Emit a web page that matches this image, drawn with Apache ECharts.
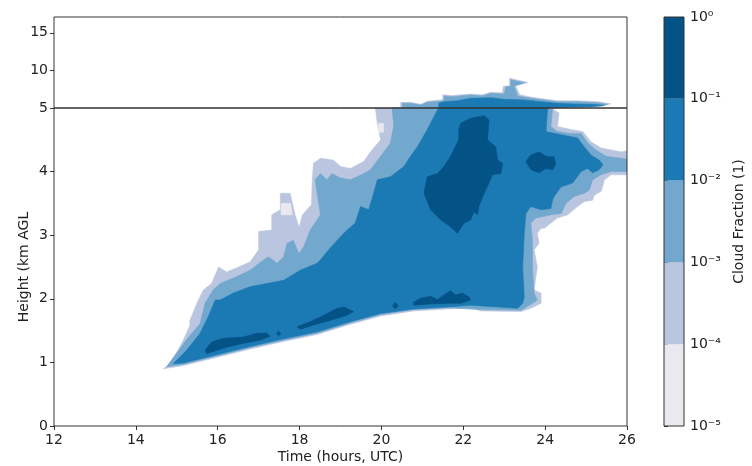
<!DOCTYPE html>
<html>
<head>
<meta charset="utf-8">
<script src="https://cdn.jsdelivr.net/npm/echarts@6/dist/echarts.min.js"></script>
<style>html,body{margin:0;padding:0;background:#fff}#c{width:752px;height:466px}</style>
</head>
<body>
<div id="c"></div>
<script>
// ---------- data (time in hours UTC, height in km AGL) ----------
const xTicks = [12, 14, 16, 18, 20, 22, 24, 26];
const yTicksLower = [0, 1, 2, 3, 4, 5];
const yTicksUpper = [10, 15];
const cloudLevelsExp = [-5, -4, -3, -2, -1, 0];   // colorbar boundaries, 10^exp

// outline of cloud fraction >= 1e-4
const level1Region = [
[14.67,0.90],[14.79,0.96],[14.96,1.11],[15.16,1.35],[15.32,1.58],[15.32,1.66],[15.49,1.93],[15.65,2.14],[15.85,2.24],[16.02,2.50],[16.22,2.42],[16.51,2.50],[16.79,2.58],[17.00,2.77],[17.00,3.06],[17.32,3.08],[17.32,3.32],[17.53,3.40],[17.53,3.66],[17.77,3.66],[17.89,3.32],[17.99,3.12],[18.07,3.32],[18.29,3.48],[18.31,3.87],[18.34,4.13],[18.51,4.21],[18.83,4.18],[19.00,4.08],[19.24,4.05],[19.57,4.16],[19.73,4.31],[19.98,4.50],[19.90,4.76],[19.85,5.00],
[20.47,5.00],[20.47,5.75],[20.71,5.75],[20.96,5.50],[21.12,5.90],[21.50,6.10],[21.50,6.75],[21.73,6.65],[22.18,6.85],[22.47,6.75],[22.67,7.10],[22.95,7.00],[22.98,7.90],[23.13,7.95],[23.13,8.95],[23.58,8.40],[23.28,7.95],[23.38,6.75],[23.65,6.45],[24.30,5.95],[24.79,5.95],[25.28,5.84],[25.60,5.55],[25.35,5.20],[24.30,5.10],[24.20,5.00],
[24.22,4.97],[24.34,4.92],[24.30,4.71],[24.63,4.66],[24.92,4.63],[25.12,4.47],[25.37,4.37],[25.86,4.31],[26.10,4.34],[26.10,3.95],[25.61,3.95],[25.45,3.87],[25.37,3.69],[25.20,3.63],[25.16,3.55],[24.96,3.53],[24.79,3.45],[24.55,3.32],[24.30,3.27],[24.14,3.19],[23.98,3.11],[23.90,3.11],[23.81,3.03],[23.85,2.87],[23.73,2.77],[23.81,2.50],[23.73,2.14],[23.90,2.09],[23.90,1.93],[23.65,1.85],[23.41,1.80],
[22.43,1.81],[22.18,1.86],[21.61,1.84],[20.79,1.81],[19.98,1.73],[19.24,1.60],[18.43,1.44],[17.61,1.33],[16.79,1.21],[15.98,1.08],[15.16,0.95]
];
// small pockets between 1e-5 and 1e-4
const level0Patches = [
[[17.55,3.32],[17.55,3.50],[17.78,3.50],[17.82,3.32]],
[[19.93,4.62],[19.93,4.76],[20.05,4.76],[20.05,4.62]]
];
// outline of cloud fraction >= 1e-3
const level2Region = [
[14.75,0.93],[15.24,1.36],[15.57,1.61],[15.69,1.93],[15.89,2.14],[16.06,2.24],[16.47,2.35],[16.79,2.45],[17.12,2.61],[17.24,2.66],[17.45,2.56],[17.61,2.66],[17.69,2.87],[17.85,2.92],[17.98,2.71],[18.10,2.82],[18.26,3.08],[18.51,3.32],[18.43,3.65],[18.38,3.87],[18.51,3.97],[18.67,3.87],[18.79,3.97],[19.00,3.90],[19.24,3.87],[19.57,3.97],[19.73,4.03],[19.98,4.24],[20.22,4.45],[20.30,4.72],[20.26,5.00],
[20.51,5.00],[20.51,5.63],[20.71,5.63],[20.96,5.40],[21.12,5.76],[21.53,5.97],[21.53,6.60],[21.73,6.51],[22.18,6.73],[22.47,6.60],[22.67,6.96],[23.00,6.87],[23.04,7.84],[23.16,7.84],[23.16,8.75],[23.50,8.37],[23.24,7.93],[23.33,6.60],[23.65,6.29],[24.30,5.84],[24.79,5.84],[25.28,5.71],[25.53,5.49],[25.28,5.27],[24.30,5.09],[24.10,5.00],
[24.18,4.97],[24.14,4.71],[24.30,4.63],[24.59,4.60],[24.88,4.60],[25.04,4.45],[25.24,4.34],[25.49,4.24],[25.86,4.21],[26.10,4.18],[26.10,4.00],[25.61,4.00],[25.37,3.95],[25.16,3.87],[25.08,3.71],[24.96,3.66],[24.71,3.61],[24.51,3.50],[24.39,3.34],[24.14,3.32],[23.77,3.27],[23.65,3.19],[23.69,2.92],[23.69,2.50],[23.73,2.09],[23.81,1.98],[23.57,1.88],[23.41,1.82],
[22.43,1.83],[21.61,1.86],[20.79,1.83],[19.98,1.75],[19.24,1.62],[18.43,1.46],[17.61,1.35],[16.79,1.23],[15.98,1.10],[15.16,0.97]
];
// outline of cloud fraction >= 1e-2
const level3Region = [
[14.91,0.98],[15.24,1.19],[15.57,1.46],[15.77,1.72],[15.94,1.98],[16.06,1.98],[16.38,2.09],[16.79,2.19],[17.20,2.24],[17.61,2.29],[18.02,2.45],[18.43,2.56],[18.51,2.61],[18.67,2.74],[18.92,2.92],[19.16,3.08],[19.36,3.19],[19.49,3.45],[19.69,3.40],[19.81,3.66],[19.90,3.87],[20.22,3.92],[20.55,4.08],[20.71,4.24],[20.88,4.39],[21.12,4.66],[21.37,4.97],[21.40,5.00],
[21.40,5.63],[21.53,5.84],[21.86,5.97],[22.18,6.29],[22.67,6.37],[23.00,6.16],[23.49,6.07],[23.90,5.84],[24.30,5.63],[24.71,5.53],[25.12,5.49],[25.45,5.36],[25.12,5.17],[24.14,5.09],[24.06,5.00],
[24.02,4.63],[24.39,4.58],[24.79,4.53],[24.92,4.42],[25.12,4.26],[25.32,4.18],[25.41,4.11],[25.32,4.03],[25.16,3.98],[25.04,4.05],[24.88,4.00],[24.67,3.82],[24.39,3.76],[24.22,3.61],[24.18,3.55],[24.14,3.42],[23.90,3.40],[23.65,3.45],[23.53,3.34],[23.49,3.03],[23.45,2.50],[23.49,2.03],[23.45,1.93],[23.33,1.85],
[22.18,1.90],[21.61,1.87],[20.79,1.84],[19.98,1.77],[19.24,1.64],[18.43,1.48],[17.61,1.37],[16.79,1.25],[15.98,1.12],[15.16,0.99]
];
// cores with cloud fraction >= 1e-1
const level4Blobs = [
[[21.94,4.76],[22.18,4.84],[22.51,4.88],[22.63,4.81],[22.59,4.50],[22.79,4.39],[22.84,4.18],[22.96,4.13],[22.92,3.97],[22.71,3.95],[22.63,3.82],[22.51,3.66],[22.38,3.45],[22.35,3.32],[22.26,3.37],[22.18,3.24],[22.02,3.19],[21.86,3.03],[21.69,3.13],[21.45,3.24],[21.20,3.40],[21.04,3.66],[21.12,3.92],[21.37,3.97],[21.53,4.08],[21.69,4.24],[21.89,4.50],[21.89,4.66]],
[[23.53,4.16],[23.65,4.26],[23.85,4.31],[24.02,4.24],[24.22,4.23],[24.26,4.11],[24.18,4.03],[24.02,4.05],[23.85,3.98],[23.65,4.03]],
[[20.79,1.95],[20.96,2.01],[21.20,2.04],[21.37,1.99],[21.53,2.06],[21.69,2.13],[21.81,2.06],[21.98,2.09],[22.14,2.03],[22.18,1.98],[21.94,1.93],[21.61,1.93],[21.20,1.92],[20.79,1.90]],
[[20.27,1.89],[20.34,1.94],[20.41,1.89],[20.34,1.84]],
[[17.94,1.56],[18.26,1.64],[18.59,1.74],[18.92,1.85],[19.08,1.87],[19.32,1.80],[19.16,1.74],[18.75,1.66],[18.34,1.59],[18.02,1.52]],
[[17.44,1.45],[17.49,1.49],[17.54,1.45],[17.49,1.42]],
[[15.69,1.19],[15.85,1.32],[16.14,1.38],[16.63,1.40],[16.96,1.46],[17.20,1.46],[17.28,1.41],[17.04,1.35],[16.63,1.30],[16.22,1.24],[15.89,1.17],[15.73,1.14]]
];

// ---------- styles ----------
const bandColors = ['#ebe9f0', '#bac6df', '#72a8ce', '#1b79b4', '#045386'];
const FONT = 'DejaVu Sans';
const TXT = '#222';
const FRAME = '#333';

const layers = [{pts: level1Region, c: 1}]
  .concat(level0Patches.map(p => ({pts: p, c: 0})))
  .concat([{pts: level2Region, c: 2}, {pts: level3Region, c: 3}])
  .concat(level4Blobs.map(p => ({pts: p, c: 4})));

function renderLayer(params, api) {
  const L = layers[api.value(0)];
  return {
    type: 'polygon',
    shape: {points: L.pts.map(p => api.coord(p))},
    style: {fill: bandColors[L.c], stroke: bandColors[L.c], lineWidth: 0.6}
  };
}
function renderBand(params, api) {
  const lo = api.value(0), hi = api.value(1), c = api.value(2);
  const p0 = api.coord([0, hi]);
  const p1 = api.coord([1, lo]);
  return {type: 'rect', shape: {x: p0[0], y: p0[1], width: p1[0] - p0[0], height: p1[1] - p0[1]},
          style: {fill: bandColors[c]}};
}
const sup = {'-5':'⁻⁵','-4':'⁻⁴','-3':'⁻³','-2':'⁻²','-1':'⁻¹','0':'⁰'};
const layerData = layers.map((l, i) => [i]);
const bandData = cloudLevelsExp.slice(0, -1).map((lo, i) => [lo, cloudLevelsExp[i + 1], i]);

const labelStyle = {fontFamily: FONT, fontSize: 14, color: TXT};
const tickStyle = {show: true, length: 4, lineStyle: {color: FRAME, width: 1}};
const gridBase = {show: true, z: 5, borderColor: FRAME, borderWidth: 1, backgroundColor: 'transparent',
                  containLabel: false, outerBoundsMode: 'none'};

const chart = echarts.init(document.getElementById('c'), null, {renderer: 'canvas'});
chart.setOption({
  animation: false,
  backgroundColor: '#fff',
  textStyle: {fontFamily: FONT},
  grid: [
    Object.assign({left: 54, top: 108, width: 573, height: 318}, gridBase),
    Object.assign({left: 54, top: 17, width: 573, height: 91}, gridBase),
    Object.assign({left: 664, top: 17, width: 20, height: 409}, gridBase)
  ],
  xAxis: [
    {gridIndex: 0, type: 'value', min: xTicks[0], max: xTicks[xTicks.length - 1], interval: 2,
     axisLine: {show: false}, axisTick: tickStyle, splitLine: {show: false},
     axisLabel: Object.assign({margin: 7}, labelStyle),
     name: 'Time (hours, UTC)', nameLocation: 'middle', nameGap: 24, nameMoveOverlap: false, nameTextStyle: labelStyle},
    {gridIndex: 1, type: 'value', min: xTicks[0], max: xTicks[xTicks.length - 1], show: false},
    {gridIndex: 2, type: 'value', min: 0, max: 1, show: false}
  ],
  yAxis: [
    {gridIndex: 0, type: 'value', min: yTicksLower[0], max: yTicksLower[yTicksLower.length - 1], interval: 1,
     axisLine: {show: false}, axisTick: tickStyle, splitLine: {show: false},
     axisLabel: Object.assign({margin: 6}, labelStyle),
     name: 'Height (km AGL', nameLocation: 'middle', nameGap: 23, nameMoveOverlap: false, nameTextStyle: labelStyle},
    {gridIndex: 1, type: 'value', min: 5, max: 17.1,
     axisLine: {show: false}, splitLine: {show: false},
     axisTick: Object.assign({customValues: yTicksUpper}, tickStyle),
     axisLabel: Object.assign({margin: 6, customValues: yTicksUpper}, labelStyle)},
    {gridIndex: 2, type: 'value', position: 'right', min: cloudLevelsExp[0], max: cloudLevelsExp[cloudLevelsExp.length - 1], interval: 1,
     axisLine: {show: false}, axisTick: tickStyle, splitLine: {show: false},
     axisLabel: Object.assign({margin: 6, formatter: v => '10' + sup[String(v)]}, labelStyle),
     name: 'Cloud Fraction (1)', nameLocation: 'middle', nameRotate: 90, nameGap: 48, nameMoveOverlap: false, nameTextStyle: labelStyle}
  ],
  series: [
    {type: 'custom', xAxisIndex: 0, yAxisIndex: 0, clip: true, silent: true, renderItem: renderLayer, data: layerData, z: 2},
    {type: 'custom', xAxisIndex: 1, yAxisIndex: 1, clip: true, silent: true, renderItem: renderLayer, data: layerData, z: 2},
    {type: 'custom', xAxisIndex: 2, yAxisIndex: 2, clip: true, silent: true, renderItem: renderBand, data: bandData, z: 2}
  ]
});
</script>
</body>
</html>
